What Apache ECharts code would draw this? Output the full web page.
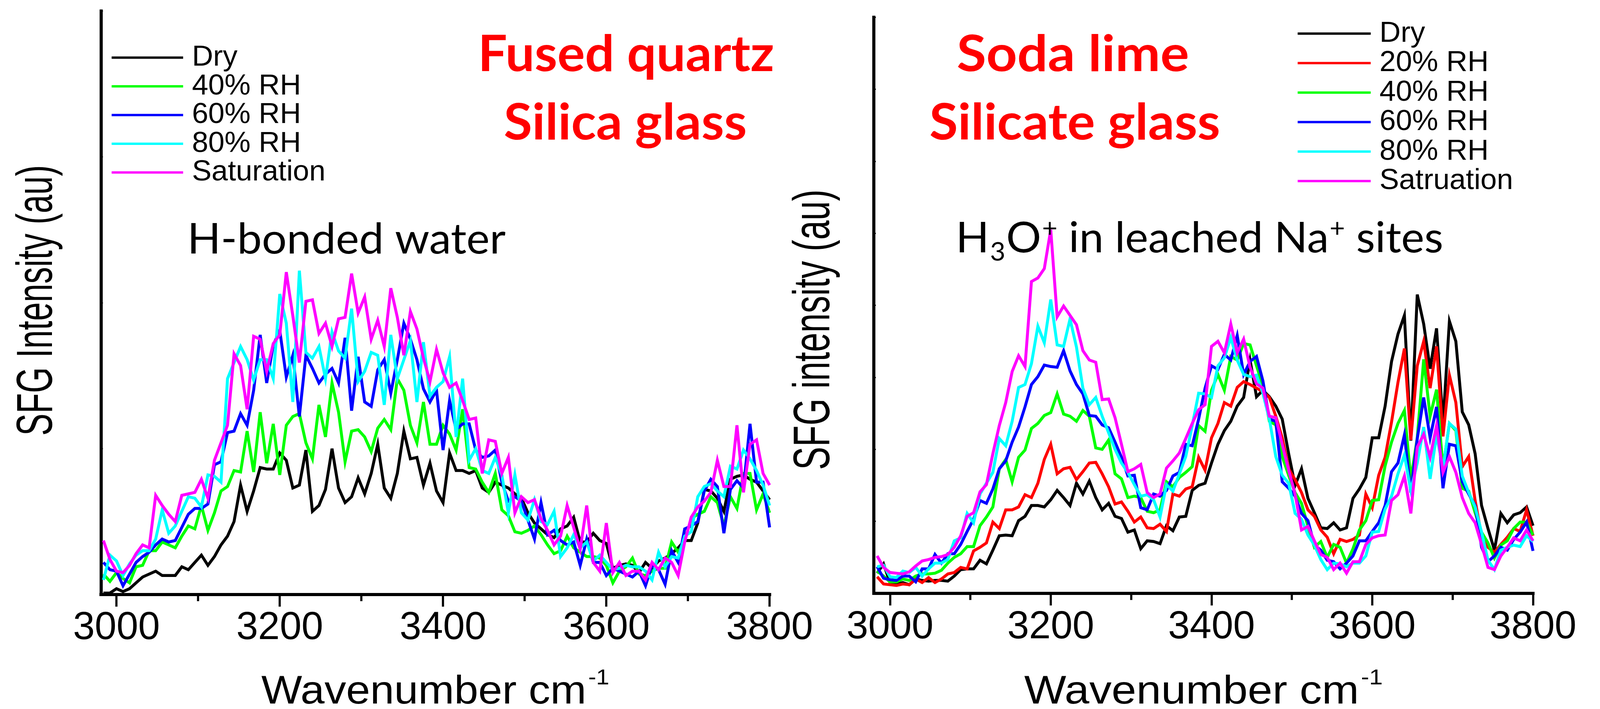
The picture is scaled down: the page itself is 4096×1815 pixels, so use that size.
<!DOCTYPE html>
<html><head><meta charset="utf-8">
<script src="https://cdn.jsdelivr.net/npm/echarts@6/dist/echarts.min.js"></script>
<style>html,body{margin:0;padding:0;background:#fff;overflow:hidden}#c{width:4096px;height:1815px}</style>
</head><body><div id="c"></div>
<script>
// ---------------- data ----------------
const wavenumber = [2984,2992,3000,3008,3016,3024,3032,3040,3048,3056,3064,3072,3080,3088,3096,3104,3112,3120,3128,3136,3144,3152,3160,3168,3176,3184,3192,3200,3208,3216,3224,3232,3240,3248,3256,3264,3272,3280,3288,3296,3304,3312,3320,3328,3336,3344,3352,3360,3368,3376,3384,3392,3400,3408,3416,3424,3432,3440,3448,3456,3464,3472,3480,3488,3496,3504,3512,3520,3528,3536,3544,3552,3560,3568,3576,3584,3592,3600,3608,3616,3624,3632,3640,3648,3656,3664,3672,3680,3688,3696,3704,3712,3720,3728,3736,3744,3752,3760,3768,3776,3784,3792,3800];
const tickLabels = [3000,3200,3400,3600,3800];
const minorTicks = [3100,3300,3500,3700];
const leftNames = ['Dry','40% RH','60% RH','80% RH','Saturation'];
const rightNames = ['Dry','20% RH','40% RH','60% RH','80% RH','Satruation'];

// Fused quartz / silica glass
const fqDry = [1,1,4,2,4,8,12,14,16,13,13,13,19,17,22,27,20,26,34,40,50,75,57,71,87,86,86,97,92,73,75,99,57,61,72,100,73,63,67,80,69,83,103,73,66,83,112,93,94,75,90,71,63,97,85,85,83,85,73,70,77,75,73,69,66,56,49,45,41,39,45,47,53,36,36,42,37,35,18,20,21,20,15,22,18,23,25,28,32,37,37,49,72,71,66,57,79,81,82,79,77,71,65];
const fq40 = [14,9,15,11,8,19,20,30,30,36,34,32,40,47,45,61,44,56,71,74,85,84,112,84,125,90,117,82,116,122,124,104,93,130,108,145,125,91,112,113,108,98,114,120,113,148,140,116,104,132,103,103,116,110,99,127,87,86,77,70,83,58,54,43,42,44,47,41,34,28,30,40,32,29,26,26,25,20,8,16,19,25,14,13,16,18,18,36,29,37,52,55,57,67,63,47,67,59,83,83,58,69,56];
const fq60 = [22,17,16,6,14,22,26,29,34,38,36,37,46,55,59,59,62,89,91,111,112,124,116,140,178,145,171,181,149,164,122,164,155,145,151,155,145,176,126,163,132,129,154,161,138,161,186,175,161,141,132,140,99,133,113,117,117,99,94,95,99,77,64,67,64,51,38,63,41,44,37,34,36,20,38,22,22,13,18,16,14,12,16,6,20,17,7,30,22,45,47,50,71,79,74,42,72,78,73,117,77,77,46];
const fq80 = [10,27,23,13,21,27,30,30,38,58,42,47,57,67,66,60,82,81,77,148,159,170,161,147,161,161,148,206,186,132,222,166,162,170,148,180,167,162,196,146,153,166,164,130,178,148,161,174,132,173,136,142,146,163,108,148,92,100,85,83,94,82,56,82,56,51,65,50,48,57,26,32,41,32,36,23,27,22,17,18,20,19,19,16,10,29,19,26,25,40,43,67,74,76,71,67,88,86,99,93,85,75,61];
const fqSat = [37,24,16,15,20,28,34,32,68,61,55,50,68,69,70,79,66,92,104,116,165,157,127,177,175,153,172,178,221,191,159,201,202,179,186,170,189,190,220,193,204,175,188,170,210,190,164,194,182,162,146,168,152,142,145,133,120,121,83,106,105,83,94,56,67,63,65,52,44,34,40,61,46,31,61,22,16,49,15,22,13,16,16,10,22,17,25,22,13,36,53,60,64,70,92,74,74,116,70,103,106,83,75];

// Soda lime / silicate glass
const slDry = [28,41,15,13,15,12,20,18,17,18,18,17,24,33,34,34,46,41,60,80,81,80,101,107,122,122,120,130,143,133,122,153,138,156,133,116,125,107,104,85,88,62,73,72,69,94,87,106,107,143,150,153,181,207,226,239,260,272,324,273,282,273,260,242,194,150,173,132,112,91,90,98,88,91,132,145,161,216,216,260,322,360,386,212,415,374,312,368,236,378,350,252,234,194,122,90,60,111,98,109,112,120,94];
const sl20 = [23,13,12,11,13,12,20,15,22,15,20,27,29,36,34,59,64,70,99,90,116,116,120,137,133,153,186,207,166,173,175,158,169,181,182,166,148,124,127,114,99,106,91,90,96,86,138,135,145,148,189,171,216,236,265,260,286,294,290,285,280,272,246,216,173,158,140,116,107,88,78,55,75,72,75,81,138,119,164,189,238,293,340,213,316,350,285,343,218,303,265,176,190,129,80,64,57,68,78,90,86,116,80];
const sl40 = [31,24,16,16,20,18,24,27,27,28,32,42,50,55,65,65,94,106,120,173,186,155,189,199,229,236,247,251,277,249,246,239,254,246,202,200,213,166,159,133,135,133,114,112,116,155,148,161,168,176,233,225,282,304,282,329,324,347,345,316,288,239,234,190,164,140,125,93,64,72,50,68,64,42,62,88,101,129,130,177,210,236,254,158,216,325,246,283,174,236,226,146,142,112,85,70,49,67,73,90,99,99,81];
const sl60 = [37,21,19,18,24,24,16,34,34,54,42,55,55,68,86,103,129,125,145,173,184,210,231,259,290,301,317,315,314,337,309,290,277,247,246,234,230,210,189,163,164,119,116,138,135,143,163,168,207,205,242,285,316,311,332,324,358,304,322,329,295,242,239,155,146,135,111,101,67,60,46,44,34,42,52,73,73,86,98,122,169,181,220,140,215,272,216,259,146,207,205,155,138,122,64,44,52,64,60,75,85,99,59];
const sl80 = [37,39,23,22,31,29,36,24,34,42,42,47,73,77,111,98,138,153,168,215,205,239,286,290,319,371,348,408,345,343,381,342,285,262,272,246,223,200,181,168,151,135,137,130,106,151,142,166,190,233,278,277,272,316,327,355,324,304,301,303,278,242,190,164,153,111,103,81,67,47,33,42,41,37,42,42,52,85,86,117,135,166,192,143,181,231,159,220,173,236,228,163,140,120,85,46,33,60,64,67,65,80,72];
const slSat = [52,36,29,28,27,30,38,45,47,50,51,54,64,80,107,112,141,151,194,233,265,308,330,315,433,438,451,505,384,399,386,373,337,324,321,269,270,244,207,169,173,179,140,133,138,174,184,195,215,236,255,262,343,350,334,374,334,353,314,291,285,246,244,207,171,138,88,93,73,54,50,33,42,28,44,44,68,77,80,81,129,137,163,111,203,221,189,233,168,190,168,133,111,98,68,36,33,52,64,77,73,88,73];

// ---------------- chart ----------------
const FS = '"Liberation Sans", Arial, Helvetica, sans-serif';
const FL = 'Lato, Carlito, Calibri, sans-serif';
const chart = echarts.init(document.getElementById('c'), null, {renderer:'canvas'});

const C = {black:'#000000', red:'#ff0000', green:'#00ff00', blue:'#0000ff', cyan:'#00ffff', magenta:'#ff00ff'};
function mk(name, vals, color, gi){
  return {type:'line', name, xAxisIndex: gi*2, yAxisIndex: gi,
    data: wavenumber.map((w,i)=>[w, vals[i]]),
    showSymbol:false, symbol:'none', animation:false,
    lineStyle:{color, width:7.5, join:'miter', miterLimit:6, cap:'butt'},
    itemStyle:{color}, emphasis:{disabled:true}};
}
const series = [
  mk('Dry', fqDry, C.black, 0), mk('40% RH', fq40, C.green, 0), mk('60% RH', fq60, C.blue, 0),
  mk('80% RH', fq80, C.cyan, 0), mk('Saturation', fqSat, C.magenta, 0),
  mk('Dry', slDry, C.black, 1), mk('20% RH', sl20, C.red, 1), mk('40% RH', sl40, C.green, 1),
  mk('60% RH', sl60, C.blue, 1), mk('80% RH', sl80, C.cyan, 1), mk('Satruation', slSat, C.magenta, 1)
];

function xMain(gi, min){
  return {type:'value', gridIndex:gi, min, max:3800, position:'bottom',
    axisLine:{show:true, onZero:false, lineStyle:{color:'#000', width:8, cap:'square'}},
    axisTick:{show:true, customValues: tickLabels, length:31, lineStyle:{color:'#000', width:5.5}},
    axisLabel:{show:true, customValues: tickLabels, margin:37, fontSize:100, color:'#000', fontFamily:FS,
      formatter: v => String(Math.round(v))},
    splitLine:{show:false}};
}
function xMinor(gi, min){
  return {type:'value', gridIndex:gi, min, max:3800, position:'bottom',
    axisLine:{show:false, onZero:false},
    axisTick:{show:true, customValues: minorTicks, length:17, lineStyle:{color:'#000', width:5.5}},
    axisLabel:{show:false}, splitLine:{show:false}};
}
function yAx(gi, max){
  return {type:'value', gridIndex:gi, min:0, max, interval:100,
    axisLine:{show:true, onZero:false, lineStyle:{color:'#000', width:8, cap:'square'}},
    axisTick:{show:true, inside:true, length:5, lineStyle:{color:'#000', width:3}},
    axisLabel:{show:false}, splitLine:{show:false}};
}
function legendOf(names, left, top, iw, gap){
  return {data:names, orient:'vertical', left, top, icon:'rect', itemWidth:iw, itemHeight:6,
    itemGap:gap, selectedMode:false, padding:0,
    textStyle:{fontSize:75, color:'#000', fontFamily:FS, padding:[0,0,0,17.6]}};
}

chart.setOption({
  backgroundColor:'#ffffff',
  animation:false,
  grid:[
    {left:258.5, top:28.2, width:1711.7, height:1493.7, containLabel:false, outerBoundsMode:'none'},
    {left:2237.2, top:44.2, width:1687.3, height:1474.8, containLabel:false, outerBoundsMode:'none'}
  ],
  xAxis:[xMain(0,2981), xMinor(0,2981), xMain(1,2980), xMinor(1,2980)],
  yAxis:[yAx(0,400), yAx(1,800)],
  legend:[legendOf(leftNames, 285.8, 110, 183, -1.5), legendOf(rightNames, 3322, 48.5, 187, 0.5)],
  series
});

// ---------------- text annotations ----------------
const mctx = document.createElement('canvas').getContext('2d');
function width(text, font){ mctx.font = font; return mctx.measureText(text).width; }
function baseOff(font){ mctx.font = font; mctx.textBaseline = 'middle'; return mctx.measureText('H').actualBoundingBoxDescent; }
function txt(text, font, x, baseline, o){
  o = o || {};
  const al = o.align || 'left';
  return {type:'text', x, y: baseline - baseOff(font), scaleX: o.sx || 1, silent:true, z:100,
    style:{text, font, fill:o.fill || '#000', textAlign:al, align:al, textVerticalAlign:'middle', verticalAlign:'middle'}};
}
function fitCenter(text, font, cx, baseline, targetW, fill){
  return txt(text, font, cx, baseline, {align:'center', sx: targetW / width(text, font), fill});
}
function seq(pieces, x0, baseline, targetW){
  const ws = pieces.map(p => width(p.t, p.font) + (p.pre || 0));
  const W = ws.reduce((a,b)=>a+b, 0);
  const s = targetW ? targetW / W : 1;
  let x = x0; const out = [];
  pieces.forEach((p,i)=>{ x += (p.pre||0)*s; out.push(txt(p.t, p.font, x, baseline + (p.dy||0), {sx:s})); x += (ws[i]-(p.pre||0))*s; });
  return out;
}
function yTitle(text, font, cx, cy, targetLen){
  const s = targetLen / width(text, font);
  return {type:'text', x:cx, y:cy, rotation:Math.PI/2, scaleX:s, silent:true, z:100,
    style:{text, font, fill:'#000', textAlign:'center', align:'center', textVerticalAlign:'middle', verticalAlign:'middle'}};
}

const red = '#ff0000';
const FB = '700 128.7px ' + FL;
const FR = '400 109px ' + FL;
const FSUB = '400 66px ' + FL;
const g = [];
g.push(fitCenter('Fused quartz', FB, 1602.7, 182.4, 758.6, red));
g.push(fitCenter('Silica glass', FB, 1600.8, 357.2, 622.3, red));
g.push(fitCenter('Soda lime', FB, 2746.7, 182.4, 595, red));
g.push(fitCenter('Silicate glass', FB, 2751.4, 357.2, 744.5, red));
g.push(txt('H-bonded water', FR, 479.4, 648.6, {sx: 815 / width('H-bonded water', FR)}));
seq([
  {t:'H', font:FR}, {t:'3', font:FSUB, dy:21.6, pre:2}, {t:'O', font:FR, pre:2}, {t:'+', font:FSUB, dy:-38.5, pre:2},
  {t:' in leached Na', font:FR}, {t:'+', font:FSUB, dy:-38.5, pre:2}, {t:' sites', font:FR}
], 2446.8, 645.8, 1248).forEach(e=>g.push(e));

g.push(yTitle('SFG Intensity (au)', '130px ' + FS, 97, 769, 693));
g.push(yTitle('SFG intensity (au)', '132.6px ' + FS, 2086, 844, 718));

const xNameMain = '102px ' + FS, xNameSup = '56px ' + FS;
function xName(cx, targetW){
  return seq([{t:'Wavenumber cm', font:xNameMain}, {t:'-1', font:xNameSup, dy:-49, pre:4.7}], cx - targetW/2, 1801, targetW);
}
xName(1114.4, 891).forEach(e=>g.push(e));
xName(3080.9, 918).forEach(e=>g.push(e));

chart.setOption({graphic: g});
</script>
</body></html>
